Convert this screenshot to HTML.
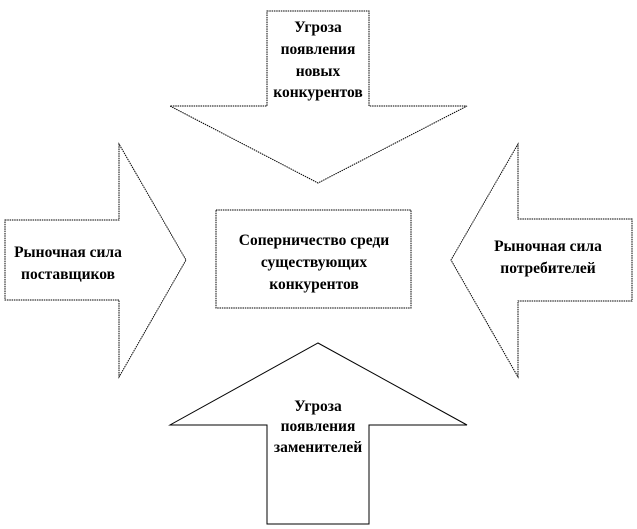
<!DOCTYPE html>
<html><head><meta charset="utf-8"><style>
html,body{margin:0;padding:0;background:#fff}
svg{display:block}
text{font-family:"Liberation Serif",serif;font-weight:bold;font-size:15.5px;fill:#000;text-anchor:middle}
</style></head><body>
<svg width="637" height="529" viewBox="0 0 637 529">
<g fill="#fff" stroke="#000" stroke-width="1">
<polygon points="267,11 369,11 369,106 467,106 318,183 170,106 267,106" stroke-dasharray="1.5,0.8"/>
<polygon points="5,220 119,220 119,144 186,260 119,377 119,300 5,300" stroke-dasharray="1.5,0.8"/>
<polygon points="632,219 518,219 518,144 451,260 518,377 518,301 632,301" stroke-dasharray="1.5,0.8"/>
<polygon points="267,524 369,524 369,425 467,425 318,343 170,425 267,425"/>
<rect x="216" y="210" width="195" height="98" stroke-dasharray="1.5,0.8"/>
</g>
<text x="318" y="32">Угроза</text>
<text x="318" y="54">появления</text>
<text x="318" y="76">новых</text>
<text x="318" y="97">конкурентов</text>
<text x="68" y="257">Рыночная сила</text>
<text x="68" y="279">поставщиков</text>
<text x="548" y="251">Рыночная сила</text>
<text x="548" y="273">потребителей</text>
<text x="314" y="245">Соперничество среди</text>
<text x="314" y="267">существующих</text>
<text x="314" y="289">конкурентов</text>
<text x="318" y="411">Угроза</text>
<text x="318" y="431">появления</text>
<text x="318" y="452">заменителей</text>
</svg>
</body></html>
